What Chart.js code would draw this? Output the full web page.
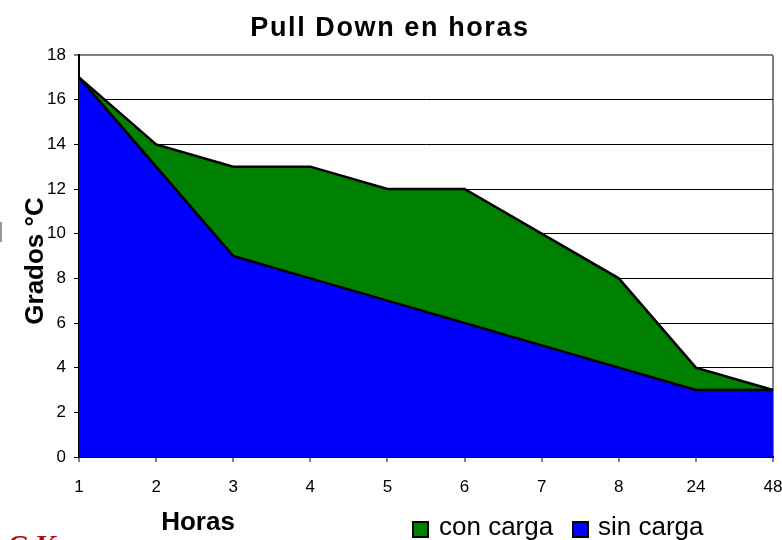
<!DOCTYPE html>
<html><head><meta charset="utf-8">
<script src="https://cdn.jsdelivr.net/npm/chart.js@4.4.1/dist/chart.umd.min.js"></script>
<style>html,body{margin:0;padding:0;background:#fff;overflow:hidden}canvas{display:block}</style>
</head><body>
<canvas id="c" width="782" height="540"></canvas>
<script>
const categories = ['1','2','3','4','5','6','7','8','24','48'];
const conCarga = [17,14,13,13,12,12,10,8,4,3];
const sinCarga = [17,13,9,8,7,6,5,4,3,3];
const yMin = 0, yMax = 18, yStep = 2;
const chartTitle = 'Pull Down en horas';
const xTitle = 'Horas';
const yTitle = 'Grados °C';
const seriesNames = ['con carga', 'sin carga'];
const seriesColors = ['#008000', '#0000FF'];
const FONT = '"Liberation Sans", Arial, Helvetica, sans-serif';

const textPlugin = {
  id: 'texts',
  afterDraw(chart) {
    const ctx = chart.ctx;
    ctx.save();
    ctx.fillStyle = '#000';
    ctx.textBaseline = 'alphabetic';
    // title
    ctx.font = 'bold 27px ' + FONT;
    ctx.textAlign = 'center';
    ctx.letterSpacing = '1.6px';
    ctx.fillText(chartTitle, 390, 36);
    ctx.letterSpacing = '0px';
    // x title
    ctx.font = 'bold 26px ' + FONT;
    ctx.fillText(xTitle, 198, 530);
    // y title
    ctx.save();
    ctx.translate(43, 261);
    ctx.rotate(-Math.PI / 2);
    ctx.fillText(yTitle, 0, 0);
    ctx.restore();
    // legend
    ctx.font = '26px ' + FONT;
    ctx.textAlign = 'left';
    const items = [{x: 413, tx: 439}, {x: 573, tx: 598}];
    items.forEach((it, i) => {
      ctx.fillStyle = seriesColors[i];
      ctx.fillRect(it.x, 522, 15, 15);
      ctx.strokeStyle = '#000';
      ctx.lineWidth = 2;
      ctx.strokeRect(it.x, 522, 15, 15);
      ctx.fillStyle = '#000';
      ctx.fillText(seriesNames[i], it.tx, 535);
    });
    // red watermark text (cut at the bottom edge)
    ctx.fillStyle = '#b01010';
    ctx.font = 'bold 28px "Liberation Serif", "Times New Roman", serif';
    ctx.fillText('G K', 8, 554);
    // small gray mark at left edge
    ctx.fillStyle = '#999';
    ctx.fillRect(0, 222, 2, 20);
    ctx.restore();
  }
};

new Chart(document.getElementById('c'), {
  type: 'line',
  data: {
    labels: categories,
    datasets: [
      {
        label: seriesNames[0], data: conCarga, order: 2,
        backgroundColor: seriesColors[0], borderColor: '#000', borderWidth: 2.5,
        fill: 'origin', pointRadius: 0, tension: 0
      },
      {
        label: seriesNames[1], data: sinCarga, order: 1,
        backgroundColor: seriesColors[1], borderColor: '#000', borderWidth: 2.5,
        fill: 'origin', pointRadius: 0, tension: 0
      }
    ]
  },
  options: {
    responsive: false,
    animation: false,
    devicePixelRatio: 1,
    layout: { padding: { top: 55, right: 9, left: 0, bottom: 0 } },
    plugins: { legend: { display: false }, title: { display: false }, tooltip: { enabled: false } },
    scales: {
      x: {
        type: 'category',
        offset: false,
        afterFit(scale) { scale.height = 83; scale.paddingRight = 0; scale.paddingLeft = 0; },
        grid: {
          drawOnChartArea: true,
          color: c => (c.index === categories.length - 1 ? '#808080' : 'rgba(0,0,0,0)'),
          lineWidth: 2,
          tickLength: 5,
          tickColor: '#000',
          tickWidth: 1
        },
        border: { color: '#000', width: 2 },
        ticks: { color: '#000', font: { family: FONT, size: 17 }, padding: 15, maxRotation: 0, autoSkip: false }
      },
      y: {
        min: yMin, max: yMax,
        afterFit(scale) { scale.width = 79; scale.paddingTop = 0; scale.paddingBottom = 0; },
        grid: {
          color: c => (c.tick && c.tick.value === yMax ? '#808080' : '#000'),
          lineWidth: c => (c.tick && c.tick.value === yMax ? 2 : 1),
          tickLength: 5,
          tickColor: '#000',
          tickWidth: 1
        },
        border: { color: '#000', width: 2 },
        ticks: { stepSize: yStep, color: '#000', font: { family: FONT, size: 17 }, padding: 8 }
      }
    }
  },
  plugins: [textPlugin]
});
</script>
</body></html>
